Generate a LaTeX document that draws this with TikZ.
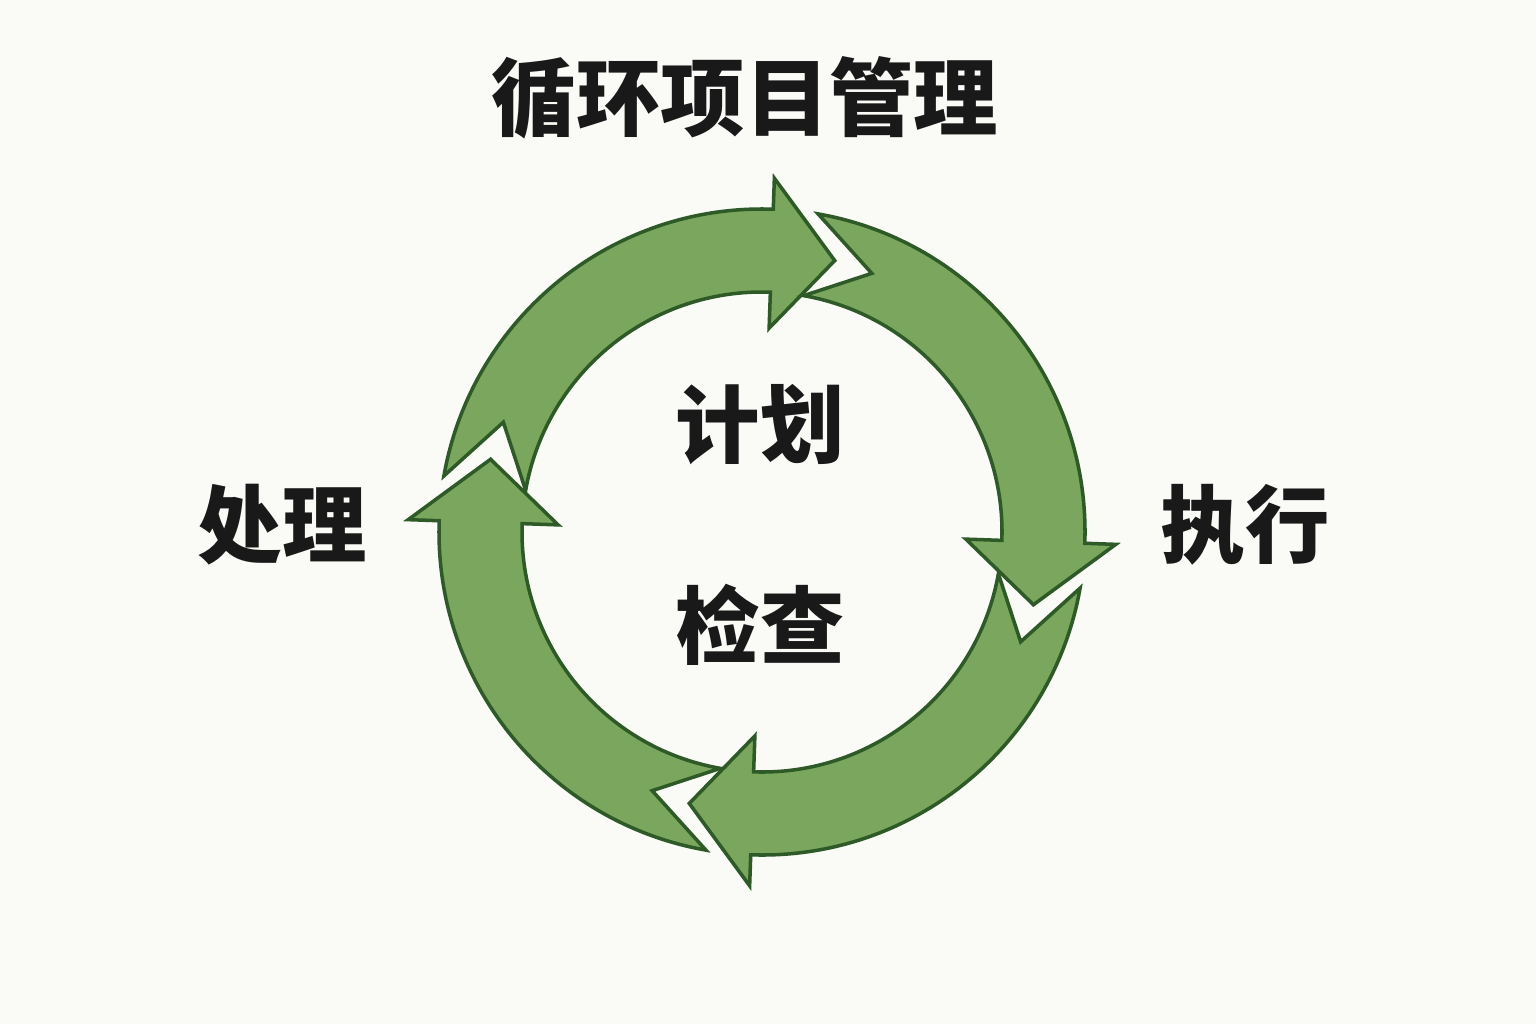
\documentclass[tikz,border=0pt]{standalone}
\usepackage{fontspec}
\newfontfamily\cjk{Noto Sans CJK SC}
\usetikzlibrary{calc}
\definecolor{leafgreen}{HTML}{7AA65E}
\definecolor{darkgreen}{HTML}{2D5A27}
\definecolor{paper}{HTML}{FAFAF6}
\begin{document}
\begin{tikzpicture}[x=0.01cm,y=0.01cm,
  cyclearrow/.style={fill=leafgreen,draw=darkgreen,line width=1pt,line join=miter},
  label/.style={font=\cjk\bfseries\fontsize{24}{24}\selectfont,text=black!90}]
  % Background and bounding box
  \fill[paper] (0,0) rectangle (1536,-1024);
  \useasboundingbox (0,0) rectangle (1536,-1024);
  \coordinate (O) at (762,-532);

  % Four curved arrows, clockwise
  \foreach \s in {170,80,-10,-100}{
    \draw[cyclearrow,shift={(O)}]
      (\s:323) arc[start angle=\s,end angle=\s-82,radius=323]
      -- (\s-82:354) -- (\s-95:281) -- (\s-82:204) -- (\s-82:240)
      arc[start angle=\s-82,end angle=\s,radius=240]
      -- (\s-13:281) -- cycle;
  }

  % Texts
  \node[label] (title) at (745,-98) {循环项目管理};
  \node[label] (plan) at (760,-425) {计划};
  \node[label] (check) at (760,-625) {检查};
  \node[label] (do) at (1245,-525) {执行};
  \node[label] (act) at (282,-525) {处理};
\end{tikzpicture}
\end{document}
